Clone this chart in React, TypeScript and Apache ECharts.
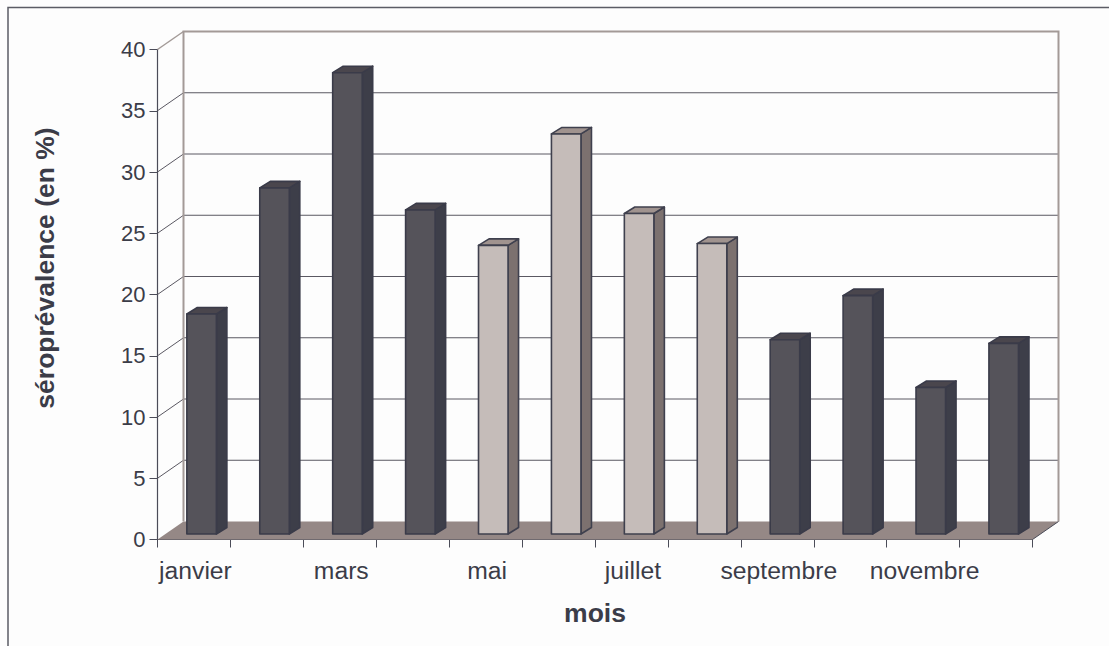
import React, { useEffect, useRef } from "react";
import * as echarts from "echarts";

const months = ["janvier", "février", "mars", "avril", "mai", "juin", "juillet", "août", "septembre", "octobre", "novembre", "décembre"];
const values = [18.0, 28.3, 37.7, 26.5, 23.6, 32.7, 26.2, 23.75, 15.9, 19.5, 12.0, 15.6];
const lightMonths = ["mai", "juin", "juillet", "août"];
const yTicks = [0, 5, 10, 15, 20, 25, 30, 35, 40];

const FONT = "'Liberation Sans', Arial, sans-serif";
const TEXT = "#3b3c48";
const LINE = "#4b4c58";
const WALL = "#a39a97";
const WALL_DX = 26;
const WALL_DY = -18;

const dark = { front: "#55535a", side: "#3d3e49", top: "#4a464d", stroke: "#3a3b49" };
const light = { front: "#c5bcb9", side: "#7c716f", top: "#a0938f", stroke: "#3f404e" };

function renderFrame(_params: any, api: any) {
  const p00 = api.coord([0, 0]);
  const top = api.coord([0, 40]);
  const size = api.size([1, 0])[0];
  const left = p00[0] - size / 2;
  const right = left + size * months.length;
  const y0 = p00[1];
  const children: any[] = [];
  children.push({
    type: "polygon",
    shape: { points: [[left, y0], [right, y0], [right + WALL_DX, y0 + WALL_DY], [left + WALL_DX, y0 + WALL_DY]] },
    style: { fill: "#958886", stroke: "none" },
  });
  yTicks.forEach((t) => {
    const y = api.coord([0, t])[1];
    if (t > 0 && t < 40) {
      children.push({
        type: "polyline",
        shape: { points: [[left, y], [left + WALL_DX, y + WALL_DY], [right + WALL_DX, y + WALL_DY]] },
        style: { fill: "none", stroke: "#5a5862", lineWidth: 1 },
      });
    }
  });
  children.push({
    type: "polyline",
    shape: {
      points: [
        [left + WALL_DX, y0 + WALL_DY],
        [left + WALL_DX, top[1] + WALL_DY],
        [right + WALL_DX, top[1] + WALL_DY],
        [right + WALL_DX, y0 + WALL_DY],
      ],
    },
    style: { fill: "none", stroke: WALL, lineWidth: 2 },
  });
  children.push({
    type: "line",
    shape: { x1: left, y1: top[1], x2: left + WALL_DX, y2: top[1] + WALL_DY },
    style: { stroke: WALL, lineWidth: 1.5 },
  });
  children.push({
    type: "line",
    shape: { x1: right, y1: y0, x2: right + WALL_DX, y2: y0 + WALL_DY },
    style: { stroke: LINE, lineWidth: 1 },
  });
  return { type: "group", children };
}

function renderBar(params: any, api: any) {
  const idx = api.value(0);
  const val = api.value(1);
  const c = lightMonths.includes(months[idx]) ? light : dark;
  const top = api.coord([idx, val]);
  const base = api.coord([idx, 0]);
  const catW = api.size([1, 0])[0];
  const w = catW * 0.405;
  const ox = catW * 0.105;
  const oy = -5.5;
  const dx = 10.5;
  const dy = -6.5;
  const x1 = top[0] + ox - w / 2;
  const x2 = x1 + w;
  const yt = top[1] + oy + 0.5;
  const yb = base[1] + oy;
  const common = { stroke: c.stroke, lineWidth: 1.6, lineJoin: "round" };
  return {
    type: "group",
    children: [
      {
        type: "polygon",
        shape: { points: [[x2, yt], [x2 + dx, yt + dy], [x2 + dx, yb + dy], [x2, yb]] },
        style: { fill: c.side, ...common },
      },
      {
        type: "polygon",
        shape: { points: [[x1, yt], [x1 + dx, yt + dy], [x2 + dx, yt + dy], [x2, yt]] },
        style: { fill: c.top, ...common },
      },
      {
        type: "polygon",
        shape: { points: [[x1, yt], [x2, yt], [x2, yb], [x1, yb]] },
        style: { fill: c.front, ...common },
      },
    ],
  };
}

export default function App() {
  const ref = useRef<HTMLDivElement>(null);
  useEffect(() => {
    document.body.style.margin = "0";
    document.body.style.background = "#fdfdfd";
    const chart = echarts.init(ref.current!, null, { renderer: "svg" });
    chart.setOption({
      animation: false,
      backgroundColor: "#fdfdfd",
      grid: { left: 157.5, top: 49.5, width: 875, height: 490 },
      graphic: [
        {
          type: "polyline",
          silent: true,
          shape: { points: [[8, 646], [8, 7.5], [1109, 7.5]] },
          style: { fill: "none", stroke: "#5b5c65", lineWidth: 1.5 },
        },
      ],
      xAxis: {
        type: "category",
        data: months,
        boundaryGap: true,
        name: "mois",
        nameLocation: "middle",
        nameGap: 60,
        nameTextStyle: { fontFamily: FONT, fontSize: 26.5, fontWeight: "bold", color: TEXT },
        axisLine: { show: true, lineStyle: { color: LINE, width: 1.2 } },
        axisTick: { show: true, interval: 0, length: 8, alignWithLabel: false, lineStyle: { color: LINE, width: 1 } },
        axisLabel: { interval: 1, margin: 18, fontFamily: FONT, fontSize: 24.7, color: TEXT, padding: [0, 0, 0, 3] },
        splitLine: { show: false },
      },
      yAxis: {
        type: "value",
        min: 0,
        max: 40,
        interval: 5,
        name: "séroprévalence (en %)",
        nameLocation: "middle",
        nameGap: 99,
        nameTextStyle: { fontFamily: FONT, fontSize: 26.5, fontWeight: "bold", color: TEXT, padding: [0, 0, 0, 53] },
        axisLine: { show: true, lineStyle: { color: LINE, width: 1.2 } },
        axisTick: { show: true, length: 8, lineStyle: { color: LINE, width: 1 } },
        axisLabel: { margin: 12, fontFamily: FONT, fontSize: 22, color: TEXT },
        splitLine: { show: false },
      },
      series: [
        { type: "custom", renderItem: renderFrame, data: [[0, 0]], encode: { x: 0, y: 1 }, silent: true, clip: false, z: 1 },
        {
          type: "custom",
          renderItem: renderBar,
          data: values.map((v, i) => [i, v]),
          encode: { x: 0, y: 1 },
          silent: true,
          clip: false,
          z: 2,
        },
      ],
    });
    return () => chart.dispose();
  }, []);
  return <div ref={ref} style={{ width: 1109, height: 646 }} />;
}
